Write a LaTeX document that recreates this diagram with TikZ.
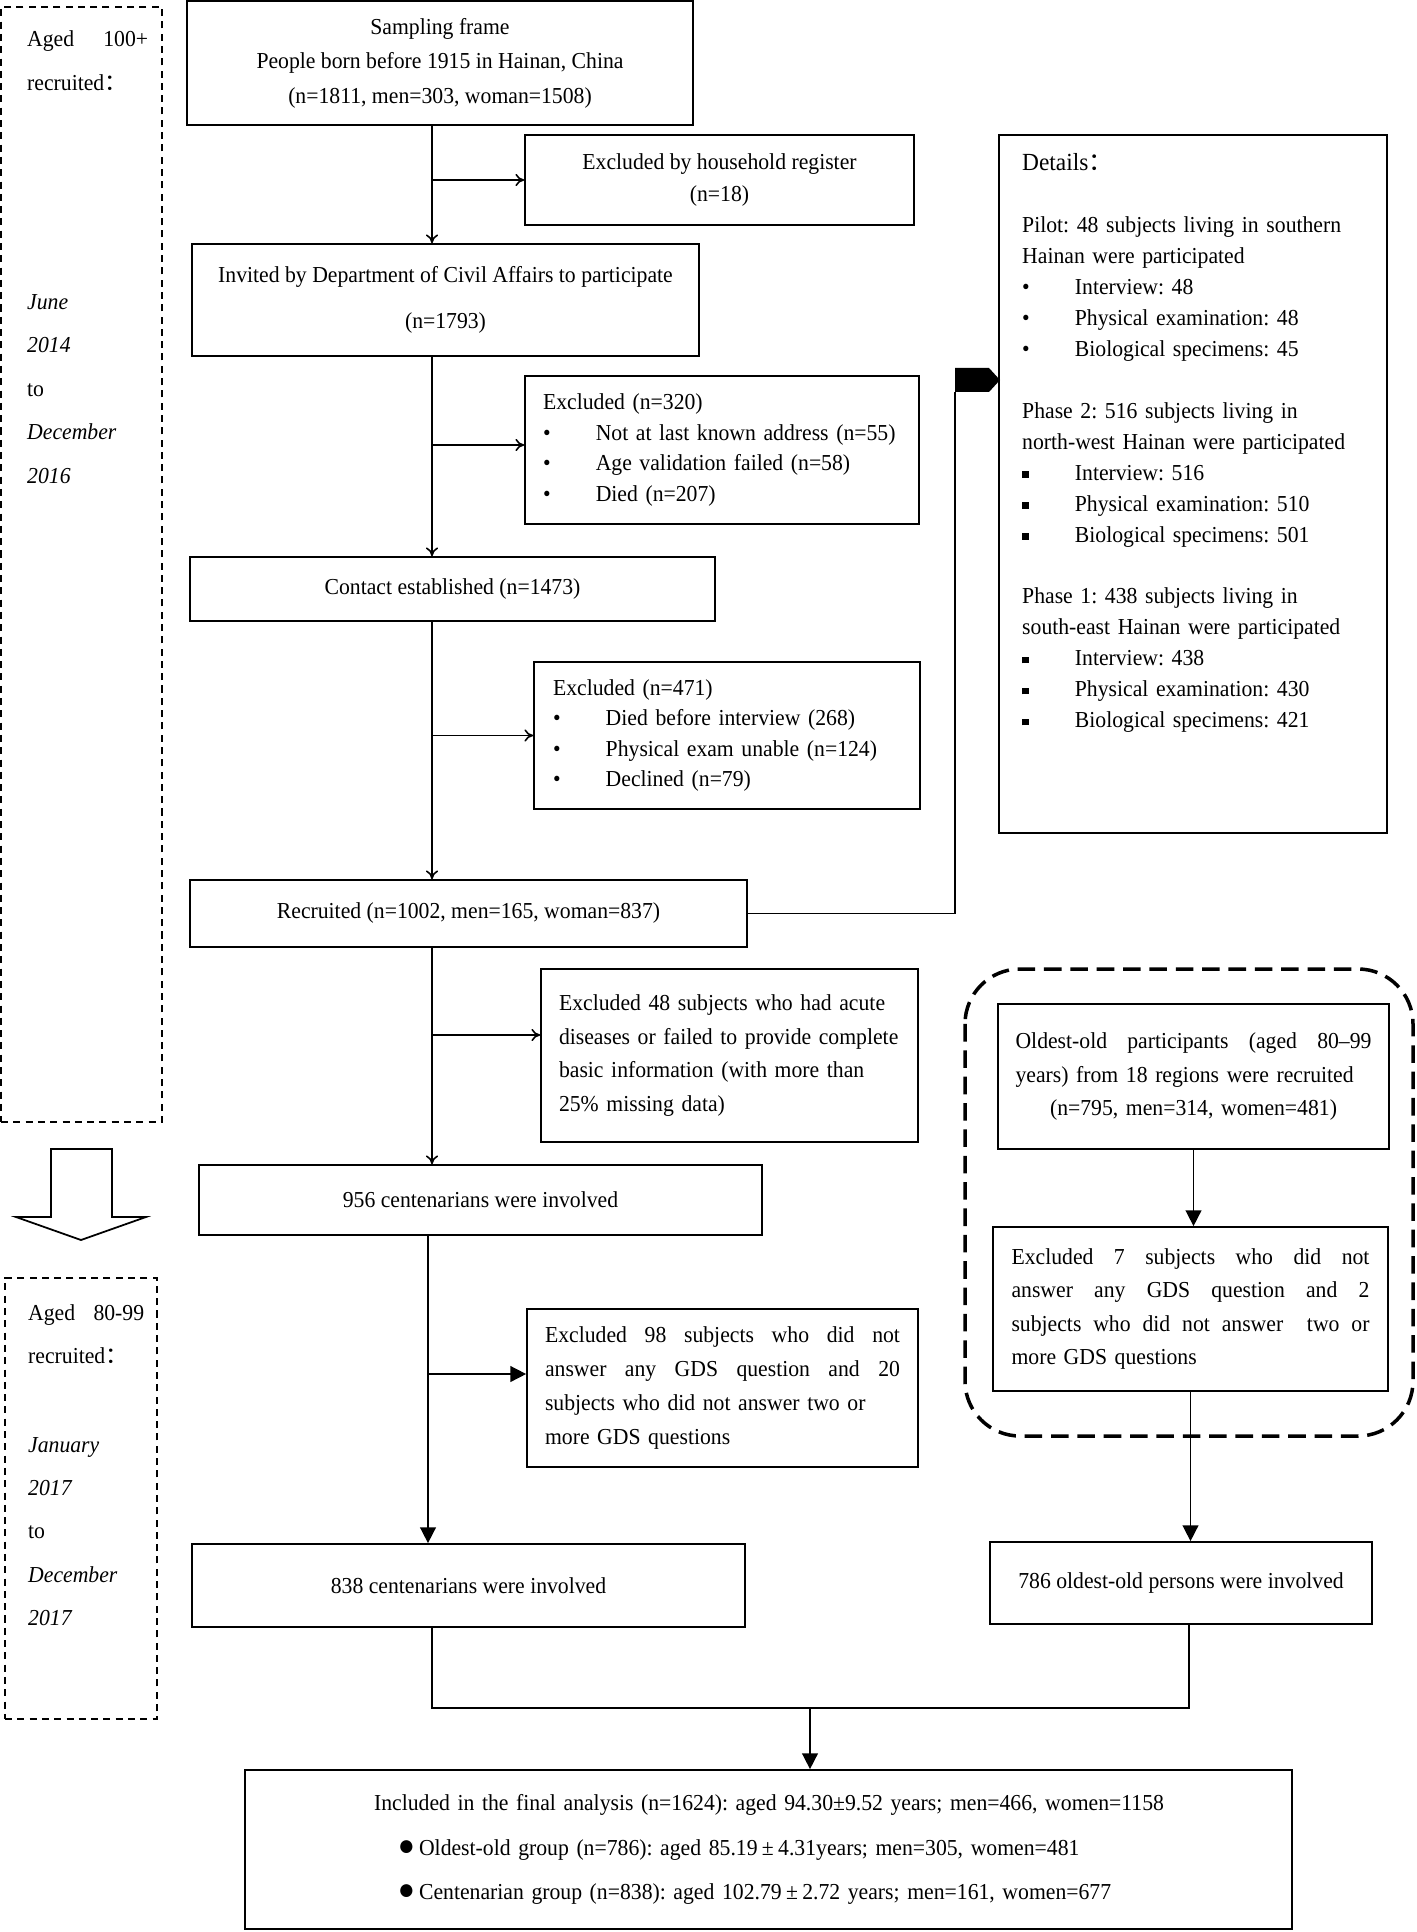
\documentclass[tikz,border=0pt]{standalone}
\usepackage{fontspec}
\setmainfont{Liberation Serif}[FakeStretch=0.95]
\newfontfamily\cjk{Noto Sans CJK SC}
\usetikzlibrary{arrows.meta}
\frenchspacing
\hyphenpenalty=10000
\newcommand{\fsz}[1]{\fontsize{13}{#1}\selectfont}
\newcommand{\bul}[1]{\makebox[30pt][l]{#1}}
\newcommand{\sqb}{\rule[1.3pt]{3.8pt}{3.8pt}}
\newcommand{\jst}[1]{\makebox[\linewidth][s]{\spaceskip=\fontdimen2\font plus 1fil\relax #1}}
\newcommand{\pmw}{\makebox[0.9em]{±}}
\newcommand{\bigdot}{\makebox[12pt][l]{\fontsize{17}{17}\selectfont ●}}
\tikzset{
	box/.style={draw,line width=1pt,inner sep=0pt,align=center},
	arr/.style={line width=0.9pt,-{To[length=5pt,width=7pt]}},
	bigarr/.style={line width=0.9pt,-{Triangle[length=9pt,width=9pt]}},
	conn/.style={line width=1pt},
	stage/.style={draw,dash pattern=on 4pt off 3pt,line width=0.8pt,inner sep=0pt},
	grp/.style={dash pattern=on 10pt off 5pt,line width=2pt,rounded corners=1.1cm},
}

\begin{document}
\begin{tikzpicture}[x=0.02cm,y=-0.02cm,font=\fsz{17.6pt}]
	\useasboundingbox (0,0) rectangle (1416,1932);
	%% Periods
	\node[stage,minimum width=3.22cm,minimum height=22.3cm] (p1) at (81.5,564.5) {};
	\node[anchor=base west,text width=2.42cm,align=left,font=\fsz{24.7pt}] (p1txt) at (21,47)
		{\jst{Aged 100+}\\ recruited{\cjk ：}\\[100pt] \textit{June}\\ \textit{2014}\\ to\\ \textit{December}\\ \textit{2016}};
	\draw[line width=1pt] (51,1149) -- (112,1149) -- (112,1217) -- (146,1217) -- (81,1240) -- (16,1217) -- (51,1217) -- cycle;
	\node[stage,minimum width=3.04cm,minimum height=8.82cm] (p2) at (81,1498.5) {};
	\node[anchor=base west,text width=2.32cm,align=left,font=\fsz{24.7pt}] (p2txt) at (22,1320)
		{\jst{Aged 80-99}\\ recruited{\cjk ：}\\[25.8pt] \textit{January}\\ \textit{2017}\\ to\\ \textit{December}\\ \textit{2017}};
	%% Centenarians
	\node[box,minimum width=10.12cm,minimum height=2.48cm,font=\fsz{19.6pt}] (samp) at (440,63)
		{Sampling frame\\ People born before 1915 in Hainan, China\\ (n=1811, men=303, woman=1508)};
	\node[box,minimum width=7.78cm,minimum height=1.8cm,font=\fsz{18.1pt}] (hh) at (719.5,180)
		{Excluded by household register\\ (n=18)};
	\node[box,minimum width=10.14cm,minimum height=2.24cm,font=\fsz{26pt}] (inv) at (445.5,300)
		{Invited by Department of Civil Affairs to participate\\ (n=1793)};
	\node[box,minimum width=7.88cm,minimum height=2.96cm,text width=7.16cm,align=left,font=\fsz{17.3pt}] (ex320) at (722,450)
		{Excluded (n=320)\\ \bul{•}Not at last known address (n=55)\\ \bul{•}Age validation failed (n=58)\\ \bul{•}Died (n=207)};
	\node[box,minimum width=10.5cm,minimum height=1.28cm] (cont) at (452.5,589) {Contact established (n=1473)};
	\node[box,minimum width=7.72cm,minimum height=2.94cm,text width=6.96cm,align=left,font=\fsz{17.4pt}] (ex471) at (727,735.5)
		{Excluded (n=471)\\ \bul{•}Died before interview (268)\\ \bul{•}Physical exam unable (n=124)\\ \bul{•}Declined (n=79)};
	\node[box,minimum width=11.14cm,minimum height=1.34cm] (rec) at (468.5,913.5) {Recruited (n=1002, men=165, woman=837)};
	\node[box,minimum width=7.54cm,minimum height=3.46cm,text width=6.82cm,align=left,font=\fsz{19pt}] (ex48) at (729.5,1055.5)
		{Excluded 48 subjects who had acute\\ diseases or failed to provide complete\\ basic information (with more than\\ 25\% missing data)};
	\node[box,minimum width=11.26cm,minimum height=1.4cm] (c956) at (480.5,1200) {956 centenarians were involved};
	\node[box,minimum width=7.82cm,minimum height=3.16cm,text width=7.1cm,align=left,font=\fsz{19.5pt}] (ex98) at (722.5,1388)
		{\jst{Excluded 98 subjects who did not}\\ \jst{answer any GDS question and 20}\\ subjects who did not answer two or\\ more GDS questions};
	\node[box,minimum width=11.06cm,minimum height=1.66cm] (c838) at (468.5,1585.5) {838 centenarians were involved};
	%% Details
	\node[box,minimum width=7.76cm,minimum height=13.96cm] (det) at (1193,484) {};
	\node[anchor=base west,text width=7.08cm,align=left] (dettxt) at (1016,171)
		{{\fontsize{14}{17.6pt}\selectfont Details{\cjk ：}}\\[17.6pt]
		Pilot: 48 subjects living in southern\\ Hainan were participated\\
		\bul{•}Interview: 48\\ \bul{•}Physical examination: 48\\ \bul{•}Biological specimens: 45\\[17.6pt]
		Phase 2: 516 subjects living in\\ north-west Hainan were participated\\
		\bul{\sqb}Interview: 516\\ \bul{\sqb}Physical examination: 510\\ \bul{\sqb}Biological specimens: 501\\[17.6pt]
		Phase 1: 438 subjects living in\\ south-east Hainan were participated\\
		\bul{\sqb}Interview: 438\\ \bul{\sqb}Physical examination: 430\\ \bul{\sqb}Biological specimens: 421};
	%% Oldest-old
	\draw[grp] (965,969) rectangle (1413,1436);
	\node[box,minimum width=7.82cm,minimum height=2.9cm,text width=7.12cm,align=left,font=\fsz{19.3pt}] (old) at (1193.5,1076.5)
		{\jst{Oldest-old participants (aged 80–99}\\ years) from 18 regions were recruited\\ \makebox[\linewidth]{(n=795, men=314, women=481)}};
	\node[box,minimum width=7.9cm,minimum height=3.28cm,text width=7.16cm,align=left,font=\fsz{19.1pt}] (ex7) at (1190.5,1309)
		{\jst{Excluded 7 subjects who did not}\\ \jst{answer any GDS question and 2}\\ \jst{subjects who did not answer \ two or}\\ more GDS questions};
	\node[box,minimum width=7.64cm,minimum height=1.64cm] (o786) at (1181,1583) {786 oldest-old persons were involved};
	%% Final
	\node[box,minimum width=20.94cm,minimum height=3.18cm,text width=15.78cm,align=left,font=\fsz{25.5pt}] (fin) at (768.5,1849.5)
		{\mbox{Included in the final analysis (n=1624): aged 94.30±9.52 years; men=466, women=1158}\\
		\hspace*{13.6pt}\bigdot Oldest-old group (n=786): aged 85.19\pmw4.31years; men=305, women=481\\
		\hspace*{13.6pt}\bigdot Centenarian group (n=838): aged 102.79\pmw2.72 years; men=161, women=677};
	%% Spine
	\coordinate (sp) at (432,0);
	\coordinate (sq) at (428,0);
	\draw[arr] (samp.south -| sp) -- (inv.north -| sp);
	\draw[arr] (inv.south -| sp) -- (cont.north -| sp);
	\draw[arr] (cont.south -| sp) -- (rec.north -| sp);
	\draw[arr] (rec.south -| sp) -- (c956.north -| sp);
	\draw[bigarr] (c956.south -| sq) -- (c838.north -| sq);
	%% Exclusions
	\coordinate (b320) at (432,445);
	\coordinate (b48) at (432,1035);
	\coordinate (b98) at (428,1374);
	\draw[arr] (hh.west -| sp) -- (hh.west);
	\draw[arr] (b320) -- (b320 -| ex320.west);
	\draw[arr] (ex471.west -| sp) -- (ex471.west);
	\draw[arr] (b48) -- (b48 -| ex48.west);
	\draw[bigarr] (b98) -- (b98 -| ex98.west);
	%% To details
	\coordinate (fl) at (955,392);
	\draw[conn] (rec.east) -| (fl);
	\fill (fl) -- ++(0,-24) -- ++(34,0) -- ++(11,12) -- ++(-11,12) -- cycle;
	%% Oldest-old arrows
	\draw[bigarr] (old.south) -- (old.south |- ex7.north);
	\draw[bigarr] (ex7.south) -- (ex7.south |- o786.north);
	%% Join
	\coordinate (jl) at (432,1708);
	\coordinate (jr) at (1189,1708);
	\coordinate (jn) at (810,1708);
	\draw[conn] (c838.south -| jl) -- (jl) -- (jr) -- (o786.south -| jr);
	\draw[bigarr] (jn) -- (fin.north -| jn);
\end{tikzpicture}
\end{document}
